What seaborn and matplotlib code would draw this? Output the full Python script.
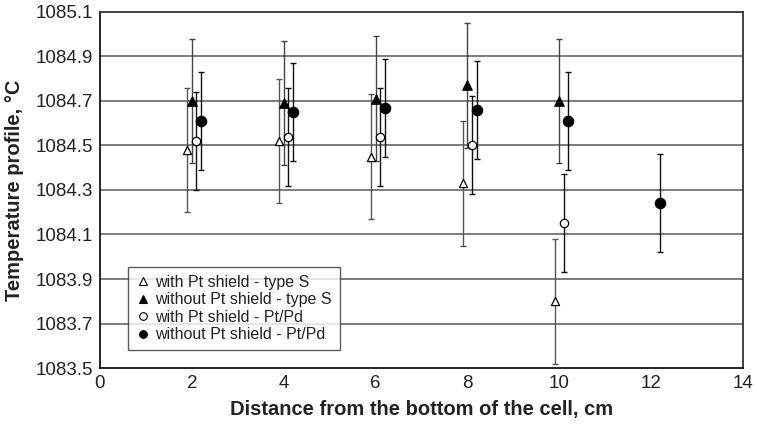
"""Temperature profile along the cell, with and without Pt shield."""

import matplotlib

matplotlib.use("Agg")
import matplotlib.pyplot as plt
import numpy as np
import pandas as pd
import seaborn as sns
from matplotlib.lines import Line2D

# data
series_names = [
    "with Pt shield - type S",
    "without Pt shield - type S",
    "with Pt shield - Pt/Pd",
    "without Pt shield - Pt/Pd",
]
x_open_tri = [1.9, 3.9, 5.9, 7.9, 9.9]
y_open_tri = [1084.48, 1084.52, 1084.45, 1084.33, 1083.80]
err_open_tri = [0.28, 0.28, 0.28, 0.28, 0.28]

x_fill_tri = [2.0, 4.0, 6.0, 8.0, 10.0]
y_fill_tri = [1084.70, 1084.69, 1084.71, 1084.77, 1084.70]
err_fill_tri = [0.28, 0.28, 0.28, 0.28, 0.28]

x_open_circ = [2.1, 4.1, 6.1, 8.1, 10.1]
y_open_circ = [1084.52, 1084.54, 1084.54, 1084.50, 1084.15]
err_open_circ = [0.22, 0.22, 0.22, 0.22, 0.22]

x_fill_circ = [2.2, 4.2, 6.2, 8.2, 10.2, 12.2]
y_fill_circ = [1084.61, 1084.65, 1084.67, 1084.66, 1084.61, 1084.24]
err_fill_circ = [0.22, 0.22, 0.22, 0.22, 0.22, 0.22]

x_ticks = [0, 2, 4, 6, 8, 10, 12, 14]
y_ticks = [1083.5, 1083.7, 1083.9, 1084.1, 1084.3, 1084.5, 1084.7, 1084.9, 1085.1]

sns.set_theme(style="white")
plt.rcParams["font.family"] = ["Liberation Sans", "DejaVu Sans"]

frames = []
for name, xs, ys, es in [
    (series_names[0], x_open_tri, y_open_tri, err_open_tri),
    (series_names[1], x_fill_tri, y_fill_tri, err_fill_tri),
    (series_names[2], x_open_circ, y_open_circ, err_open_circ),
    (series_names[3], x_fill_circ, y_fill_circ, err_fill_circ),
]:
    frames.append(pd.DataFrame({"series": name, "x": xs, "y": ys, "err": es}))
df = pd.concat(frames, ignore_index=True)

styles = {
    series_names[0]: dict(marker="^", face="white", size=34, ecolor="#555555"),
    series_names[1]: dict(marker="^", face="black", size=46, ecolor="#444444"),
    series_names[2]: dict(marker="o", face="white", size=36, ecolor="#111111"),
    series_names[3]: dict(marker="o", face="black", size=55, ecolor="#111111"),
}

fig = plt.figure(figsize=(7.57, 4.25), dpi=100)
ax = fig.add_axes([0.132, 0.134, 0.8495, 0.838])

for y in y_ticks[1:-1]:
    ax.axhline(y, color="#666666", lw=1.2, zorder=0)

for name, st in styles.items():
    sub = df[df["series"] == name]
    ax.errorbar(sub["x"], sub["y"], yerr=sub["err"], fmt="none",
                ecolor=st["ecolor"], elinewidth=1.0, capsize=2.2, capthick=1.0, zorder=2)
    sns.scatterplot(data=sub, x="x", y="y", marker=st["marker"], s=st["size"],
                    color=st["face"], edgecolor="black", linewidth=0.9,
                    ax=ax, zorder=3, legend=False)

ax.set_xlim(0, 14)
ax.set_ylim(1083.5, 1085.1)
ax.set_xticks(x_ticks)
ax.set_yticks(y_ticks)
ax.set_yticklabels([f"{v:.1f}" for v in y_ticks])
ax.tick_params(axis="both", labelsize=13.5, colors="#222222")
ax.tick_params(axis="x", direction="in", length=4, width=1, color="black", pad=5)
ax.tick_params(axis="y", length=0, pad=5)
ax.set_xlabel("Distance from the bottom of the cell, cm", fontsize=14.5,
              fontweight="bold", color="#222222", labelpad=6)
ax.set_ylabel("Temperature profile, °C", fontsize=14.5, fontweight="bold",
              color="#222222", labelpad=8)

for side in ["left", "bottom"]:
    ax.spines[side].set_color("black")
    ax.spines[side].set_linewidth(1.2)
for side in ["top", "right"]:
    ax.spines[side].set_color("#333333")
    ax.spines[side].set_linewidth(1.3)

handles = [
    Line2D([], [], ls="none", marker=styles[n]["marker"], markerfacecolor=styles[n]["face"],
           markeredgecolor="black", markersize=5.5, markeredgewidth=0.8)
    for n in series_names
]
leg = ax.legend(handles, series_names, loc="lower left", bbox_to_anchor=(0.044, 0.05),
                fontsize=11.5, frameon=True, fancybox=False, borderpad=0.5,
                handlelength=0.8, handletextpad=0.4, labelspacing=0.16,
                borderaxespad=0)
leg.get_frame().set_edgecolor("#333333")
leg.get_frame().set_linewidth(1.0)
for t in leg.get_texts():
    t.set_color("#222222")

fig.savefig("out.png", dpi=100)
